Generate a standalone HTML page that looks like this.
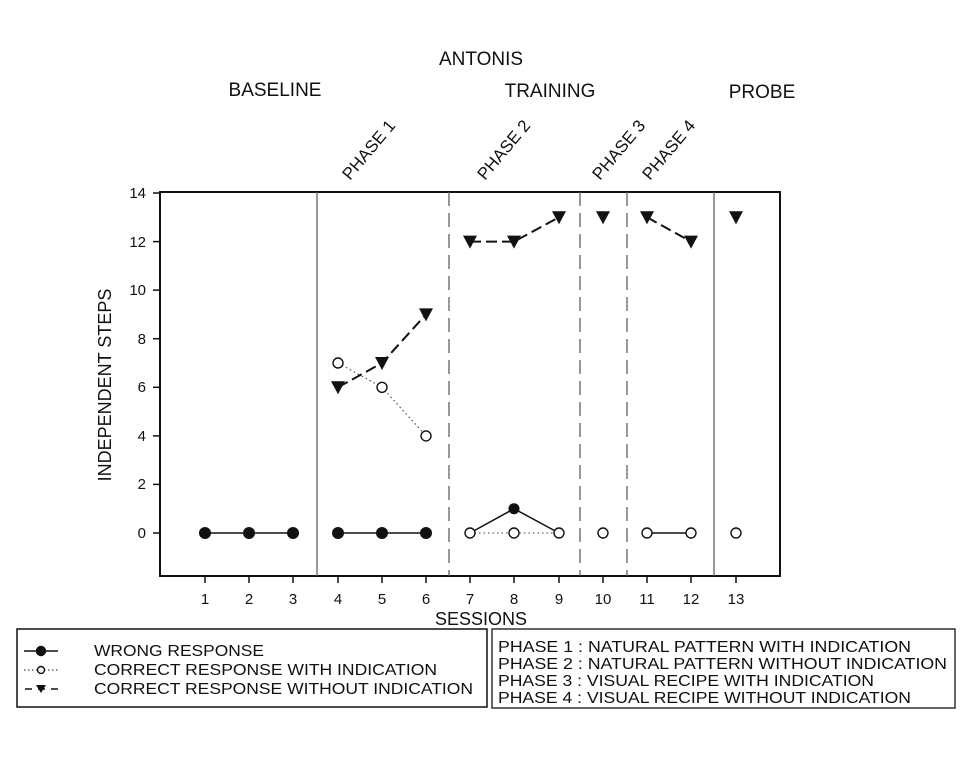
<!DOCTYPE html>
<html><head><style>body{margin:0;background:#fff}svg{display:block}</style></head><body>
<svg width="968" height="767" viewBox="0 0 968 767" xmlns="http://www.w3.org/2000/svg" font-family="Liberation Sans, Arial, sans-serif">
<rect width="968" height="767" fill="#fff"/>
<g font-size="19" text-anchor="middle" fill="#111">
<text x="481" y="65">ANTONIS</text>
<text x="275" y="96">BASELINE</text>
<text x="550" y="97">TRAINING</text>
<text x="762" y="98">PROBE</text>
</g>
<g font-size="17" fill="#111">
<text transform="translate(350,181) rotate(-50)">PHASE 1</text>
<text transform="translate(485,181) rotate(-50)">PHASE 2</text>
<text transform="translate(600,181) rotate(-50)">PHASE 3</text>
<text transform="translate(650,181) rotate(-50)">PHASE 4</text>
</g>
<rect x="160" y="192" width="620" height="384" fill="none" stroke="#111" stroke-width="2"/>
<g stroke="#555" stroke-width="1.2">
<line x1="317" y1="192" x2="317" y2="576"/>
<line x1="714" y1="192" x2="714" y2="576"/>
<g stroke-dasharray="14,7">
<line x1="449" y1="192" x2="449" y2="576"/>
<line x1="580" y1="192" x2="580" y2="576"/>
<line x1="627" y1="192" x2="627" y2="576"/>
</g></g>
<g stroke="#111" stroke-width="1.5">
<line x1="153" y1="193" x2="160" y2="193"/><line x1="153" y1="241.6" x2="160" y2="241.6"/><line x1="153" y1="290.1" x2="160" y2="290.1"/><line x1="153" y1="338.7" x2="160" y2="338.7"/><line x1="153" y1="387.3" x2="160" y2="387.3"/><line x1="153" y1="435.9" x2="160" y2="435.9"/><line x1="153" y1="484.4" x2="160" y2="484.4"/><line x1="153" y1="533" x2="160" y2="533"/>
</g>
<g font-size="15" text-anchor="end" fill="#111">
<text x="146" y="198">14</text><text x="146" y="247">12</text><text x="146" y="295">10</text><text x="146" y="344">8</text><text x="146" y="392">6</text><text x="146" y="441">4</text><text x="146" y="489">2</text><text x="146" y="538">0</text>
</g>
<g font-size="15" text-anchor="middle" fill="#111">
<text x="205" y="604">1</text><text x="249" y="604">2</text><text x="293" y="604">3</text><text x="338" y="604">4</text><text x="382" y="604">5</text><text x="426" y="604">6</text><text x="470" y="604">7</text><text x="514" y="604">8</text><text x="559" y="604">9</text><text x="603" y="604">10</text><text x="647" y="604">11</text><text x="691" y="604">12</text><text x="736" y="604">13</text>
</g>
<g stroke="#111" stroke-width="1.5">
<line x1="205" y1="576" x2="205" y2="583"/><line x1="249" y1="576" x2="249" y2="583"/><line x1="293" y1="576" x2="293" y2="583"/><line x1="338" y1="576" x2="338" y2="583"/><line x1="382" y1="576" x2="382" y2="583"/><line x1="426" y1="576" x2="426" y2="583"/><line x1="470" y1="576" x2="470" y2="583"/><line x1="514" y1="576" x2="514" y2="583"/><line x1="559" y1="576" x2="559" y2="583"/><line x1="603" y1="576" x2="603" y2="583"/><line x1="647" y1="576" x2="647" y2="583"/><line x1="691" y1="576" x2="691" y2="583"/><line x1="736" y1="576" x2="736" y2="583"/>
</g>
<text x="481" y="625" font-size="18" text-anchor="middle" fill="#111">SESSIONS</text>
<text transform="translate(111,385) rotate(-90)" font-size="18" text-anchor="middle" fill="#111">INDEPENDENT STEPS</text>
<g fill="none" stroke="#111" stroke-width="1.5">
<polyline points="205,533 293,533"/><polyline points="338,533 426,533"/>
<polyline points="470,533 514,508.7 559,533"/><polyline points="647,533 691,533"/>
</g>
<g fill="none" stroke="#444" stroke-width="1.1" stroke-dasharray="1.5,3">
<polyline points="338,363 382,387.3 426,435.9"/><polyline points="470,533 559,533"/>
</g>
<g fill="none" stroke="#111" stroke-width="2" stroke-dasharray="11,5">
<polyline points="338,387.3 382,363 426,314.4"/><polyline points="470,241.6 514,241.6 559,217.3"/><polyline points="647,217.3 691,241.6"/>
</g>
<g fill="#111">
<circle cx="205" cy="533" r="6"/><circle cx="249" cy="533" r="6"/><circle cx="293" cy="533" r="6"/><circle cx="338" cy="533" r="6"/><circle cx="382" cy="533" r="6"/><circle cx="426" cy="533" r="6"/><circle cx="514" cy="508.7" r="5.5"/>
</g>
<g fill="#fff" stroke="#111" stroke-width="1.4">
<circle cx="338" cy="363" r="5"/><circle cx="382" cy="387.3" r="5"/><circle cx="426" cy="435.9" r="5"/><circle cx="470" cy="533" r="5"/><circle cx="514" cy="533" r="5"/><circle cx="559" cy="533" r="5"/><circle cx="603" cy="533" r="5"/><circle cx="647" cy="533" r="5"/><circle cx="691" cy="533" r="5"/><circle cx="736" cy="533" r="5"/>
</g>
<g fill="#111">
<path d="M-7,-6 L7,-6 L0,7Z" transform="translate(338,387.3)"/>
<path d="M-7,-6 L7,-6 L0,7Z" transform="translate(382,363)"/>
<path d="M-7,-6 L7,-6 L0,7Z" transform="translate(426,314.4)"/>
<path d="M-7,-6 L7,-6 L0,7Z" transform="translate(470,241.6)"/>
<path d="M-7,-6 L7,-6 L0,7Z" transform="translate(514,241.6)"/>
<path d="M-7,-6 L7,-6 L0,7Z" transform="translate(559,217.3)"/>
<path d="M-7,-6 L7,-6 L0,7Z" transform="translate(603,217.3)"/>
<path d="M-7,-6 L7,-6 L0,7Z" transform="translate(647,217.3)"/>
<path d="M-7,-6 L7,-6 L0,7Z" transform="translate(691,241.6)"/>
<path d="M-7,-6 L7,-6 L0,7Z" transform="translate(736,217.3)"/>
</g>
<rect x="17" y="629" width="470" height="78" fill="none" stroke="#111" stroke-width="1.5"/>
<rect x="492" y="629" width="463" height="79" fill="none" stroke="#333" stroke-width="1.5"/>
<g stroke="#111" stroke-width="1.4">
<line x1="24" y1="651" x2="58" y2="651"/><circle cx="41" cy="651" r="4.5" fill="#111"/>
<line x1="24" y1="670" x2="58" y2="670" stroke-dasharray="1.5,2.5" stroke="#666"/><circle cx="41" cy="670" r="3.5" fill="#fff"/>
<line x1="24" y1="689" x2="58" y2="689" stroke-dasharray="7,6" stroke-dashoffset="-1"/>
</g>
<path d="M36,685 L46,685 L41,693Z" fill="#111"/>
<g font-size="16" fill="#111">
<text x="94" y="656" textLength="170" lengthAdjust="spacingAndGlyphs">WRONG RESPONSE</text>
<text x="94" y="675" textLength="343" lengthAdjust="spacingAndGlyphs">CORRECT RESPONSE WITH INDICATION</text>
<text x="94" y="694" textLength="379" lengthAdjust="spacingAndGlyphs">CORRECT RESPONSE WITHOUT INDICATION</text>
<text x="498" y="652" textLength="413" lengthAdjust="spacingAndGlyphs">PHASE 1 : NATURAL PATTERN WITH INDICATION</text>
<text x="498" y="669" textLength="449" lengthAdjust="spacingAndGlyphs">PHASE 2 : NATURAL PATTERN WITHOUT INDICATION</text>
<text x="498" y="686" textLength="376" lengthAdjust="spacingAndGlyphs">PHASE 3 : VISUAL RECIPE WITH INDICATION</text>
<text x="498" y="703" textLength="413" lengthAdjust="spacingAndGlyphs">PHASE 4 : VISUAL RECIPE WITHOUT INDICATION</text>
</g>
</svg>
</body></html>
